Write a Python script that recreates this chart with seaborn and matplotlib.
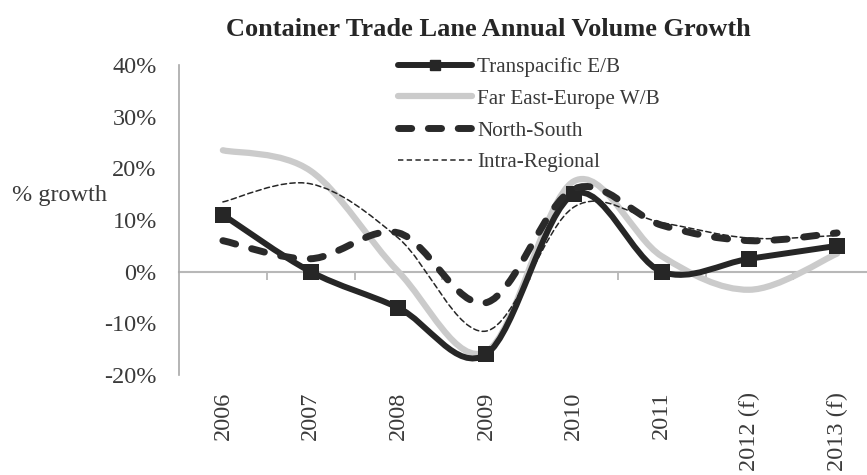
import numpy as np
import pandas as pd
import matplotlib
matplotlib.use('Agg')
import matplotlib.pyplot as plt
import seaborn as sns
from matplotlib.path import Path
from matplotlib.patches import PathPatch
from matplotlib.lines import Line2D

years = ['2006', '2007', '2008', '2009', '2010', '2011', '2012 (f)', '2013 (f)']
transpacific = [11, 0, -7, -16, 15, 0, 2.5, 5]
far_east = [23.5, 19.5, 0, -15.5, 17.5, 3, -3.5, 3.5]
north_south = [6, 2.5, 7.5, -6, 16, 9, 6, 7.5]
intra = [13.5, 17, 6.5, -11.5, 12.5, 9.5, 6.5, 7]
names = ['Transpacific E/B', 'Far East-Europe W/B', 'North-South', 'Intra-Regional']


def smooth_path(xs, ys):
    # excel style smoothed line: cubic bezier through the data points
    pts = np.column_stack([xs, ys]).astype(float)
    n = len(pts)
    verts = [pts[0]]
    codes = [Path.MOVETO]
    for i in range(n - 1):
        p0 = pts[i - 1] if i > 0 else pts[i]
        p1 = pts[i]
        p2 = pts[i + 1]
        p3 = pts[i + 2] if i + 2 < n else pts[i + 1]
        verts += [p1 + (p2 - p0) / 6, p2 - (p3 - p1) / 6, p2]
        codes += [Path.CURVE4] * 3
    return Path(verts, codes)


sns.set_style('white')
plt.rcParams['font.family'] = ['Liberation Serif', 'DejaVu Serif']

df = pd.DataFrame({'year': years, 'pos': np.arange(len(years)),
                   names[0]: transpacific, names[1]: far_east,
                   names[2]: north_south, names[3]: intra})

fig = plt.figure(figsize=(8.67, 4.75), dpi=100)
ax = fig.add_axes([179 / 867, 100 / 475, 702 / 867, 310 / 475])

styles = {
    names[1]: dict(color='#cbcbcb', lw=4.5, ls='-', z=2),
    names[0]: dict(color='#262626', lw=4.3, ls='-', z=3),
    names[3]: dict(color='#262626', lw=1.1, ls=(0, (3.5, 2.2)), z=4),
    names[2]: dict(color='#2a2a2a', lw=5.0, ls=(0, (1.9, 2.4)), z=5),
}
for name, st in styles.items():
    patch = PathPatch(smooth_path(df['pos'], df[name]), facecolor='none',
                      edgecolor=st['color'], lw=st['lw'], linestyle=st['ls'],
                      capstyle='round', joinstyle='round', zorder=st['z'])
    ax.add_patch(patch)

sns.scatterplot(data=df, x='pos', y=names[0], marker='s', s=120,
                color='#262626', edgecolor='#262626', linewidth=0,
                ax=ax, zorder=3, legend=False)

ax.set_xlim(-0.5, 7.5)
ax.set_ylim(-20, 40)
ax.set_xlabel('')
ax.set_ylabel('')
for s in ['top', 'right', 'bottom']:
    ax.spines[s].set_visible(False)
ax.spines['left'].set_color('#a8a8a8')
ax.spines['left'].set_linewidth(1.2)

yt = [-20, -10, 0, 10, 20, 30, 40]
ax.set_yticks(yt, [f'{v}%' for v in yt])
ax.tick_params(axis='y', length=6, width=1.2, color='#a8a8a8',
               labelsize=17.5, labelcolor='#3a3a3a', pad=10)
ax.set_xticks(df['pos'], years, rotation=90)
ax.tick_params(axis='x', length=0, labelsize=17.5, labelcolor='#3a3a3a', pad=12)

# horizontal axis sits at 0%
sec = ax.secondary_xaxis(1 / 3)
sec.set_xticks(np.arange(0.5, 7, 1))
sec.tick_params(length=6, width=1.2, color='#b0b0b0', labelbottom=False, labeltop=False)
sec.spines['bottom'].set_color('#b8b8b8')
sec.spines['bottom'].set_linewidth(1.5)

fig.text(12 / 867, 1 - 195 / 475, '% growth', fontsize=17.5, color='#3a3a3a',
         ha='left', va='center')
fig.text(488 / 867, 1 - 30 / 475, 'Container Trade Lane Annual Volume Growth',
         fontsize=19, fontweight='bold', color='#262626', ha='center', va='center')

handles = [
    Line2D([], [], color='#262626', lw=4.3, marker='s', markersize=7),
    Line2D([], [], color='#cbcbcb', lw=4.5),
    Line2D([], [], color='#2a2a2a', lw=5.0, ls=(0, (1.9, 2.4)), dash_capstyle='round'),
    Line2D([], [], color='#262626', lw=1.1, ls=(0, (3.5, 2.2))),
]
fig.legend(handles, names, loc='upper left', bbox_to_anchor=(398 / 867, 1 - 57 / 475),
           frameon=False, fontsize=15.2, handlelength=3.5, handletextpad=0.25,
           labelspacing=0.57, borderpad=0, borderaxespad=0, labelcolor='#3a3a3a')

fig.savefig('out.png', dpi=100)
